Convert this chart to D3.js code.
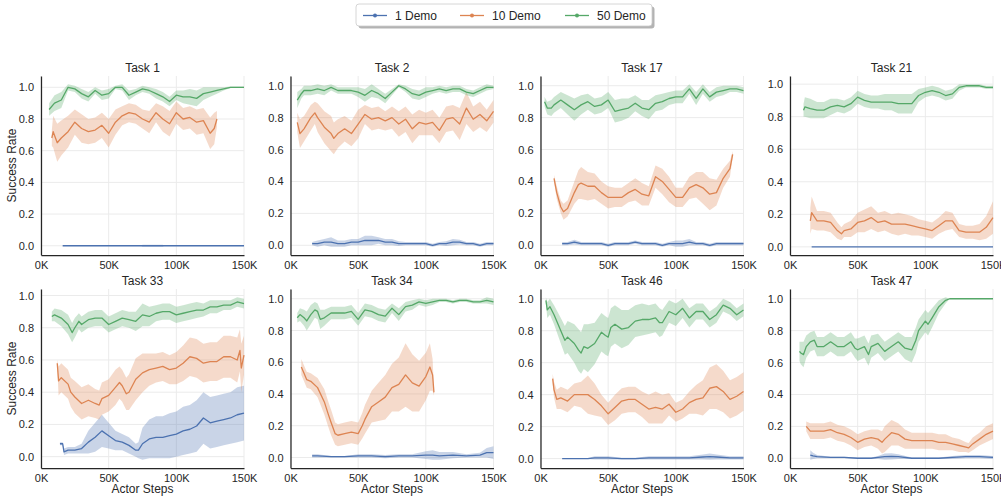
<!DOCTYPE html>
<html>
<head>
<meta charset="utf-8">
<script src="https://cdn.jsdelivr.net/npm/d3@7"></script>
<style>
body { margin: 0; background: #fff; }
svg { font-family: "Liberation Sans", Arial, sans-serif; }
.tick text { fill: #262626; font-size: 11px; }
</style>
</head>
<body>
<svg width="1001" height="497"></svg>
<script>
// **** data: [actor steps (K), mean success, band half-width] ****

var taskNames = ["Task 1", "Task 2", "Task 17", "Task 21", "Task 33", "Task 34", "Task 46", "Task 47"];
var demoNames = ["1 Demo", "10 Demo", "50 Demo"];
var demoColors = ["#4c72b0", "#dd8452", "#55a868"];
var xTicks = [0, 50, 100, 150];
var yTicks = [0, 0.2, 0.4, 0.6, 0.8, 1.0];

var t1_d1 = [[16,0,0],[74,0,0],[75,0,0.007],[90,0,0.007],[91,0,0],[150,0,0]];
var t1_d10 = [[8,0.68,0.05],[9,0.72,0.1],[12,0.65,0.12],[15,0.68,0.11],[20,0.72,0.1],[25,0.78,0.08],[30,0.74,0.09],[35,0.72,0.08],[40,0.73,0.08],[45,0.76,0.08],[50,0.71,0.09],[55,0.78,0.08],[60,0.82,0.06],[65,0.84,0.06],[70,0.83,0.06],[75,0.80,0.06],[80,0.78,0.07],[85,0.84,0.06],[90,0.80,0.08],[95,0.77,0.08],[100,0.84,0.07],[105,0.80,0.07],[110,0.81,0.07],[115,0.78,0.08],[120,0.79,0.08],[125,0.71,0.1],[128,0.74,0.1],[130,0.80,0.05]];
var t1_d50 = [[6,0.86,0.04],[10,0.90,0.05],[15,0.92,0.05],[20,1.0,0.02],[25,0.99,0.02],[30,0.96,0.03],[35,0.94,0.03],[40,0.98,0.02],[45,0.95,0.03],[50,0.96,0.03],[55,1.0,0.01],[60,1.0,0.02],[65,0.95,0.03],[70,0.97,0.02],[75,0.99,0.02],[80,0.98,0.02],[85,0.96,0.03],[90,0.94,0.03],[95,0.91,0.03],[100,0.95,0.03],[105,0.94,0.04],[110,0.94,0.05],[115,0.93,0.05],[120,0.96,0.04],[125,0.97,0.03],[130,0.98,0.02],[135,0.99,0.01],[140,1.0,0.005],[145,1.0,0.005],[150,1.0,0.005]];

var t2_d1 = [[16,0.01,0.01],[20,0.01,0.02],[25,0.02,0.02],[30,0.02,0.03],[35,0.01,0.02],[40,0.01,0.02],[45,0.02,0.02],[50,0.02,0.02],[55,0.03,0.03],[60,0.03,0.03],[65,0.03,0.02],[70,0.02,0.02],[75,0.02,0.02],[80,0.01,0.015],[85,0.01,0.01],[90,0.01,0.01],[95,0.01,0.01],[100,0.01,0.01],[105,0.0,0.01],[110,0.01,0.01],[115,0.01,0.015],[120,0.02,0.02],[125,0.02,0.015],[130,0.01,0.01],[135,0.01,0.01],[140,0.0,0.01],[145,0.01,0.01],[150,0.01,0.01]];
var t2_d10 = [[5,0.77,0.06],[7,0.70,0.09],[10,0.73,0.08],[15,0.80,0.08],[18,0.83,0.07],[20,0.80,0.09],[25,0.74,0.1],[30,0.70,0.11],[32,0.67,0.1],[35,0.70,0.09],[40,0.73,0.08],[45,0.70,0.08],[50,0.76,0.09],[55,0.82,0.06],[60,0.79,0.07],[65,0.80,0.07],[70,0.78,0.06],[75,0.80,0.07],[80,0.76,0.08],[85,0.79,0.08],[90,0.73,0.09],[95,0.77,0.08],[100,0.76,0.07],[105,0.77,0.08],[110,0.72,0.08],[115,0.79,0.08],[120,0.80,0.08],[125,0.76,0.1],[130,0.86,0.1],[135,0.79,0.08],[140,0.82,0.08],[145,0.78,0.07],[150,0.84,0.07]];
var t2_d50 = [[5,0.91,0.05],[8,0.95,0.03],[10,0.97,0.03],[15,0.97,0.03],[20,0.98,0.03],[25,0.97,0.03],[30,0.99,0.02],[35,0.97,0.02],[40,0.97,0.02],[45,0.97,0.02],[50,0.96,0.03],[55,0.94,0.04],[60,0.97,0.04],[65,0.95,0.03],[70,0.92,0.03],[75,0.96,0.02],[80,1.0,0.01],[85,0.98,0.02],[90,0.95,0.03],[95,0.94,0.03],[100,0.96,0.03],[105,0.97,0.02],[110,0.98,0.02],[115,0.97,0.02],[120,0.98,0.02],[125,0.98,0.02],[130,0.96,0.02],[135,0.95,0.02],[140,0.97,0.02],[145,0.99,0.02],[150,0.99,0.01]];

var t17_d1 = [[16,0.01,0.01],[20,0.01,0.01],[25,0.02,0.015],[30,0.01,0.01],[35,0.01,0.01],[40,0.01,0.01],[45,0.01,0.01],[50,0.0,0.01],[55,0.01,0.01],[60,0.01,0.01],[65,0.01,0.01],[70,0.02,0.01],[75,0.01,0.01],[80,0.01,0.01],[85,0.01,0.01],[90,0.0,0.01],[95,0.01,0.01],[100,0.01,0.02],[105,0.01,0.02],[110,0.02,0.02],[115,0.01,0.01],[120,0.01,0.01],[125,0.0,0.01],[130,0.01,0.01],[135,0.01,0.01],[140,0.01,0.01],[145,0.01,0.01],[150,0.01,0.01]];
var t17_d10 = [[10,0.42,0.02],[12,0.33,0.04],[15,0.24,0.04],[17,0.21,0.05],[20,0.23,0.05],[25,0.33,0.07],[28,0.38,0.09],[30,0.39,0.1],[35,0.37,0.09],[40,0.37,0.08],[45,0.33,0.07],[50,0.30,0.07],[55,0.30,0.06],[60,0.30,0.06],[65,0.33,0.06],[70,0.35,0.07],[75,0.32,0.07],[80,0.31,0.06],[85,0.43,0.07],[90,0.40,0.08],[95,0.35,0.08],[100,0.30,0.06],[105,0.30,0.06],[110,0.36,0.07],[115,0.38,0.08],[120,0.36,0.1],[125,0.32,0.1],[130,0.33,0.08],[135,0.42,0.06],[140,0.48,0.05],[142,0.57,0.02]];
var t17_d50 = [[3,0.90,0.03],[5,0.86,0.04],[8,0.86,0.05],[10,0.88,0.05],[15,0.91,0.05],[20,0.88,0.06],[25,0.85,0.07],[30,0.88,0.06],[35,0.90,0.05],[40,0.87,0.05],[45,0.88,0.05],[50,0.91,0.05],[55,0.84,0.07],[60,0.85,0.07],[65,0.86,0.06],[70,0.89,0.05],[75,0.86,0.05],[80,0.85,0.06],[85,0.89,0.05],[90,0.90,0.05],[95,0.92,0.04],[100,0.93,0.04],[105,0.93,0.04],[110,0.98,0.03],[115,0.92,0.04],[120,0.98,0.03],[125,0.93,0.03],[130,0.96,0.03],[135,0.97,0.03],[140,0.98,0.02],[145,0.98,0.02],[150,0.97,0.02]];

var t21_d1 = [[16,0,0],[150,0,0]];
var t21_d10 = [[15,0.16,0.08],[16,0.21,0.1],[20,0.16,0.06],[25,0.16,0.06],[30,0.15,0.06],[35,0.10,0.05],[38,0.08,0.04],[40,0.10,0.04],[45,0.11,0.05],[50,0.15,0.06],[55,0.16,0.07],[60,0.18,0.07],[65,0.15,0.06],[70,0.16,0.06],[75,0.14,0.06],[80,0.14,0.07],[85,0.14,0.06],[90,0.13,0.06],[95,0.12,0.05],[100,0.11,0.05],[105,0.10,0.05],[110,0.13,0.05],[115,0.16,0.06],[120,0.16,0.05],[125,0.10,0.04],[130,0.09,0.04],[135,0.09,0.04],[140,0.09,0.05],[145,0.12,0.07],[150,0.18,0.1]];
var t21_d50 = [[10,0.84,0.04],[11,0.86,0.06],[15,0.85,0.06],[20,0.84,0.05],[25,0.84,0.05],[30,0.86,0.05],[35,0.87,0.04],[40,0.86,0.04],[45,0.88,0.04],[50,0.92,0.04],[55,0.90,0.04],[60,0.89,0.04],[65,0.89,0.04],[70,0.89,0.05],[75,0.89,0.05],[80,0.88,0.06],[85,0.88,0.06],[90,0.88,0.06],[95,0.93,0.04],[100,0.95,0.03],[105,0.96,0.03],[110,0.95,0.03],[115,0.93,0.03],[120,0.94,0.03],[125,0.98,0.02],[130,0.99,0.01],[135,0.99,0.01],[140,0.99,0.01],[145,0.98,0.01],[150,0.98,0.01]];

var t33_d1 = [[14,0.08,0.01],[16,0.08,0.01],[17,0.03,0.02],[20,0.04,0.02],[25,0.04,0.02],[30,0.05,0.03],[35,0.09,0.07],[40,0.12,0.09],[45,0.16,0.1],[50,0.13,0.08],[55,0.10,0.06],[60,0.09,0.05],[65,0.07,0.05],[70,0.04,0.04],[72,0.04,0.05],[75,0.08,0.1],[80,0.11,0.12],[85,0.12,0.13],[90,0.12,0.13],[95,0.13,0.14],[100,0.14,0.14],[105,0.16,0.15],[110,0.17,0.15],[115,0.19,0.16],[120,0.24,0.16],[125,0.21,0.16],[130,0.22,0.16],[135,0.23,0.16],[140,0.24,0.16],[145,0.26,0.17],[150,0.27,0.17]];
var t33_d10 = [[12,0.58,0.02],[13,0.47,0.09],[15,0.49,0.09],[20,0.45,0.09],[22,0.40,0.09],[25,0.37,0.1],[30,0.33,0.1],[35,0.35,0.1],[40,0.33,0.09],[43,0.32,0.09],[45,0.36,0.1],[50,0.38,0.1],[55,0.43,0.11],[58,0.46,0.1],[60,0.44,0.1],[63,0.39,0.1],[65,0.40,0.11],[70,0.48,0.13],[75,0.52,0.12],[80,0.54,0.1],[85,0.55,0.09],[90,0.56,0.09],[95,0.54,0.09],[100,0.55,0.1],[105,0.58,0.11],[110,0.62,0.12],[115,0.61,0.12],[120,0.58,0.12],[125,0.59,0.12],[130,0.59,0.12],[135,0.62,0.13],[140,0.62,0.13],[145,0.60,0.14],[147,0.66,0.13],[148,0.55,0.15],[150,0.63,0.12]];
var t33_d50 = [[8,0.87,0.03],[10,0.88,0.04],[15,0.86,0.05],[20,0.82,0.06],[23,0.77,0.06],[25,0.80,0.06],[28,0.84,0.05],[30,0.82,0.05],[35,0.85,0.05],[40,0.86,0.05],[45,0.86,0.05],[50,0.82,0.05],[55,0.84,0.05],[60,0.86,0.05],[65,0.85,0.05],[70,0.84,0.06],[75,0.88,0.07],[80,0.87,0.06],[85,0.89,0.05],[90,0.90,0.05],[95,0.90,0.05],[100,0.88,0.05],[105,0.89,0.05],[110,0.90,0.05],[115,0.91,0.05],[120,0.91,0.04],[125,0.93,0.04],[130,0.93,0.04],[135,0.94,0.03],[140,0.94,0.03],[145,0.96,0.03],[150,0.95,0.03]];

var t34_d1 = [[16,0.01,0.01],[20,0.01,0.01],[30,0.005,0.005],[40,0.005,0.005],[50,0.01,0.01],[60,0.01,0.01],[70,0.005,0.01],[80,0.01,0.01],[90,0.01,0.01],[100,0.015,0.025],[105,0.015,0.03],[110,0.01,0.025],[120,0.015,0.02],[130,0.01,0.01],[140,0.015,0.015],[145,0.03,0.03],[150,0.03,0.04]];
var t34_d10 = [[8,0.57,0.05],[10,0.53,0.05],[12,0.49,0.05],[15,0.48,0.05],[20,0.44,0.06],[25,0.35,0.08],[28,0.27,0.08],[30,0.22,0.08],[33,0.15,0.07],[35,0.14,0.07],[40,0.15,0.07],[45,0.16,0.07],[50,0.15,0.07],[53,0.20,0.08],[55,0.24,0.09],[60,0.32,0.1],[65,0.35,0.12],[70,0.38,0.14],[75,0.44,0.15],[80,0.46,0.17],[85,0.52,0.2],[90,0.47,0.18],[95,0.45,0.16],[100,0.51,0.15],[103,0.57,0.15],[105,0.52,0.1],[106,0.41,0.02]];
var t34_d50 = [[5,0.88,0.03],[7,0.90,0.04],[10,0.88,0.05],[12,0.86,0.06],[15,0.90,0.06],[18,0.93,0.05],[20,0.92,0.05],[22,0.87,0.06],[25,0.88,0.05],[30,0.91,0.04],[35,0.91,0.04],[40,0.91,0.04],[45,0.92,0.04],[50,0.87,0.04],[55,0.93,0.04],[60,0.92,0.04],[65,0.90,0.04],[70,0.89,0.04],[75,0.94,0.03],[80,0.90,0.04],[85,0.95,0.03],[90,0.96,0.03],[95,0.98,0.02],[100,0.97,0.02],[105,0.98,0.02],[110,0.99,0.01],[115,0.99,0.01],[120,0.98,0.01],[125,0.99,0.01],[130,0.99,0.01],[135,0.98,0.01],[140,0.98,0.01],[145,0.99,0.02],[150,0.98,0.02]];

var t46_d1 = [[16,0,0],[35,0,0.003],[40,0.005,0.01],[50,0.005,0.01],[60,0.0,0.005],[70,0.0,0.005],[80,0.005,0.01],[90,0.005,0.01],[100,0.005,0.01],[110,0.005,0.01],[120,0.01,0.015],[125,0.012,0.02],[130,0.01,0.015],[140,0.005,0.01],[150,0.005,0.01]];
var t46_d10 = [[9,0.50,0.03],[10,0.43,0.05],[12,0.37,0.06],[15,0.38,0.07],[20,0.36,0.07],[25,0.40,0.07],[30,0.40,0.08],[35,0.40,0.12],[40,0.37,0.1],[45,0.33,0.07],[50,0.28,0.07],[55,0.32,0.08],[60,0.36,0.08],[65,0.37,0.08],[70,0.37,0.08],[75,0.34,0.08],[80,0.31,0.09],[85,0.32,0.1],[90,0.31,0.09],[95,0.34,0.07],[100,0.29,0.06],[105,0.31,0.06],[110,0.35,0.07],[115,0.37,0.09],[120,0.38,0.11],[125,0.44,0.13],[130,0.45,0.14],[135,0.42,0.13],[140,0.37,0.12],[145,0.39,0.12],[150,0.42,0.12]];
var t46_d50 = [[4,0.99,0.02],[5,0.93,0.05],[7,0.95,0.05],[10,0.90,0.06],[15,0.80,0.08],[18,0.74,0.09],[20,0.76,0.1],[25,0.72,0.12],[28,0.68,0.13],[30,0.66,0.13],[32,0.70,0.14],[35,0.69,0.15],[40,0.72,0.13],[45,0.79,0.12],[48,0.77,0.12],[50,0.76,0.12],[52,0.82,0.12],[55,0.84,0.12],[60,0.81,0.12],[65,0.82,0.11],[70,0.86,0.1],[75,0.87,0.1],[80,0.87,0.09],[85,0.88,0.09],[88,0.85,0.09],[90,0.85,0.08],[95,0.92,0.07],[100,0.90,0.07],[105,0.94,0.06],[110,0.88,0.06],[115,0.92,0.05],[120,0.92,0.05],[125,0.87,0.05],[130,0.90,0.05],[135,0.96,0.04],[140,0.94,0.04],[145,0.90,0.04],[150,0.93,0.04]];

var t47_d1 = [[15,0.02,0.03],[17,0.015,0.02],[20,0.01,0.01],[30,0.005,0.005],[40,0.005,0.005],[50,0.0,0.005],[60,0.0,0.005],[65,0.005,0.01],[70,0.01,0.02],[75,0.012,0.02],[80,0.01,0.015],[90,0.0,0.005],[100,0.0,0.005],[110,0.0,0.005],[120,0.005,0.01],[130,0.01,0.01],[140,0.01,0.01],[150,0.005,0.01]];
var t47_d10 = [[12,0.20,0.03],[15,0.17,0.05],[20,0.17,0.05],[25,0.17,0.05],[30,0.18,0.05],[35,0.16,0.05],[40,0.15,0.05],[45,0.13,0.05],[50,0.10,0.05],[55,0.12,0.05],[60,0.13,0.05],[65,0.12,0.06],[68,0.10,0.07],[70,0.12,0.08],[75,0.16,0.08],[80,0.15,0.07],[85,0.12,0.06],[90,0.11,0.05],[95,0.11,0.05],[100,0.11,0.05],[105,0.11,0.05],[110,0.10,0.05],[115,0.10,0.05],[120,0.09,0.04],[125,0.08,0.04],[130,0.07,0.03],[132,0.065,0.03],[135,0.09,0.04],[140,0.12,0.04],[145,0.15,0.05],[150,0.17,0.05]];
var t47_d50 = [[7,0.67,0.06],[8,0.66,0.07],[10,0.65,0.08],[12,0.70,0.07],[15,0.73,0.06],[18,0.74,0.06],[20,0.70,0.06],[25,0.70,0.06],[30,0.73,0.06],[35,0.70,0.06],[40,0.70,0.06],[45,0.73,0.06],[48,0.69,0.06],[50,0.68,0.07],[55,0.70,0.07],[58,0.65,0.07],[60,0.70,0.07],[65,0.72,0.06],[70,0.67,0.06],[75,0.70,0.06],[80,0.73,0.06],[85,0.69,0.07],[90,0.68,0.08],[93,0.74,0.08],[95,0.80,0.07],[100,0.86,0.07],[102,0.84,0.07],[105,0.88,0.06],[110,0.95,0.04],[115,0.99,0.02],[118,1.0,0],[150,1.0,0]];

var panelSeries = [
    [t1_d1, t1_d10, t1_d50],
    [t2_d1, t2_d10, t2_d50],
    [t17_d1, t17_d10, t17_d50],
    [t21_d1, t21_d10, t21_d50],
    [t33_d1, t33_d10, t33_d50],
    [t34_d1, t34_d10, t34_d50],
    [t46_d1, t46_d10, t46_d50],
    [t47_d1, t47_d10, t47_d50]
];

// **** layout ****

var svg = d3.select('svg');
var plotW = 203, plotH = 179;
var colLeft = [41, 290.5, 540.5, 790];
var rowTop = [76, 289];

var xScale = d3.scaleLinear().domain([0, 150]).range([0, plotW]);

panelSeries.forEach(function(series, i) {
    var col = i % 4, row = Math.floor(i / 4);

    // y range follows the data with a 5% margin, per panel
    var lo = d3.min(series, function(s) { return d3.min(s, function(d) { return d[1] - d[2]; }); });
    var hi = d3.max(series, function(s) { return d3.max(s, function(d) { return d[1] + d[2]; }); });
    var pad = (hi - lo) * 0.05;
    var yScale = d3.scaleLinear().domain([lo - pad, hi + pad]).range([plotH, 0]);

    var g = svg.append('g')
        .attr('transform', 'translate(' + colLeft[col] + ',' + rowTop[row] + ')');

    // grid
    g.selectAll('line.vgrid').data(xTicks).enter().append('line')
        .attr('x1', function(d) { return xScale(d); }).attr('x2', function(d) { return xScale(d); })
        .attr('y1', 0).attr('y2', plotH)
        .attr('stroke', '#ebebeb').attr('stroke-width', 1);
    g.selectAll('line.hgrid').data(yTicks).enter().append('line')
        .attr('x1', 0).attr('x2', plotW)
        .attr('y1', function(d) { return yScale(d); }).attr('y2', function(d) { return yScale(d); })
        .attr('stroke', '#ebebeb').attr('stroke-width', 1);

    var area = d3.area()
        .x(function(d) { return xScale(d[0]); })
        .y0(function(d) { return yScale(d[1] - d[2]); })
        .y1(function(d) { return yScale(d[1] + d[2]); });
    var line = d3.line()
        .x(function(d) { return xScale(d[0]); })
        .y(function(d) { return yScale(d[1]); });

    series.forEach(function(s, k) {
        g.append('path').datum(s)
            .attr('d', area)
            .attr('fill', demoColors[k])
            .attr('fill-opacity', 0.3)
            .attr('stroke', 'none');
    });
    series.forEach(function(s, k) {
        g.append('path').datum(s)
            .attr('d', line)
            .attr('fill', 'none')
            .attr('stroke', demoColors[k])
            .attr('stroke-width', 1.3)
            .attr('stroke-linejoin', 'round');
    });

    // axes
    var xAxis = g.append('g').attr('transform', 'translate(0,' + plotH + ')')
        .call(d3.axisBottom(xScale).tickValues(xTicks).tickSize(0).tickPadding(6)
            .tickFormat(function(d) { return d + 'K'; }));
    var yAxis = g.append('g')
        .call(d3.axisLeft(yScale).tickValues(yTicks).tickSize(0).tickPadding(7)
            .tickFormat(d3.format('.1f')));
    [xAxis, yAxis].forEach(function(a) {
        a.select('.domain').attr('stroke', '#262626').attr('stroke-width', 1.25);
        a.selectAll('text').attr('font-family', '"Liberation Sans", Arial, sans-serif');
    });

    g.append('text')
        .attr('x', plotW / 2).attr('y', -4)
        .attr('text-anchor', 'middle')
        .attr('font-size', 12).attr('fill', '#262626')
        .text(taskNames[i]);

    if (col === 0) {
        g.append('text')
            .attr('transform', 'translate(' + (12 - colLeft[0]) + ',' + (plotH / 2) + ') rotate(-90)')
            .attr('text-anchor', 'middle')
            .attr('dy', '0.35em')
            .attr('font-size', 12).attr('fill', '#262626')
            .text('Success Rate');
    }
    if (row === 1) {
        g.append('text')
            .attr('x', plotW / 2).attr('y', plotH + 25)
            .attr('text-anchor', 'middle')
            .attr('font-size', 12).attr('fill', '#262626')
            .text('Actor Steps');
    }
});

// **** legend ****

var legend = svg.append('g').attr('transform', 'translate(356,4)');
legend.append('rect')
    .attr('x', 2.5).attr('y', 2.5).attr('width', 296).attr('height', 22).attr('rx', 3)
    .attr('fill', '#b3b3b3');
legend.append('rect')
    .attr('x', 0).attr('y', 0).attr('width', 296).attr('height', 22).attr('rx', 3)
    .attr('fill', '#fff').attr('stroke', '#cccccc').attr('stroke-width', 0.8);

var legendX = [7, 104, 209];
demoNames.forEach(function(name, k) {
    var e = legend.append('g').attr('transform', 'translate(' + legendX[k] + ',11.5)');
    e.append('line').attr('x1', 0).attr('x2', 24).attr('y1', 0).attr('y2', 0)
        .attr('stroke', demoColors[k]).attr('stroke-width', 1.3);
    e.append('circle').attr('cx', 12).attr('cy', 0).attr('r', 2)
        .attr('fill', demoColors[k]);
    e.append('text').attr('x', 32).attr('y', 0).attr('dy', '0.35em')
        .attr('font-size', 12).attr('fill', '#262626')
        .text(name);
});
</script>
</body>
</html>
